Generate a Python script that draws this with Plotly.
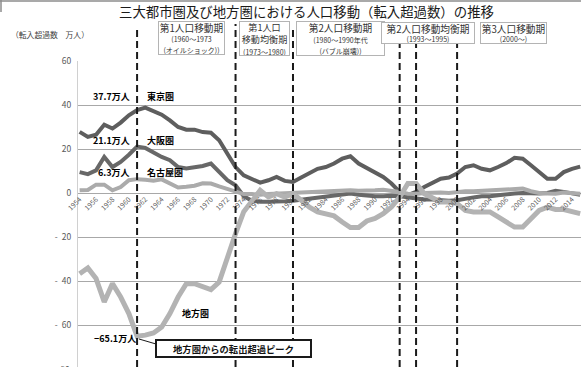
import plotly.graph_objects as go

# 年次（1954〜2015）
years = list(range(1954, 2016))

# 転入超過数（万人）
tokyo = [27.8, 25.5, 26.5, 31.0, 29.3, 32.0, 35.3, 37.7, 38.8, 37.4, 35.6, 33.0,
         30.0, 28.8, 28.8, 27.7, 27.4, 24.0, 18.0, 11.8, 8.0, 6.5, 4.7, 5.8,
         7.3, 5.5, 5.0, 7.0, 9.0, 11.0, 11.8, 13.4, 15.6, 16.7, 13.4, 11.5,
         9.5, 7.3, 4.3, 0.5, -1.0, 0.5, 2.7, 4.7, 6.5, 7.0, 8.8, 11.8,
         12.6, 11.0, 10.3, 11.8, 13.6, 16.0, 15.6, 12.6, 9.5, 6.5, 6.5, 9.5,
         11.0, 12.0]
osaka = [9.5, 8.6, 10.3, 16.4, 11.8, 14.1, 17.4, 21.1, 20.5, 18.4, 16.4, 14.9,
         11.8, 11.1, 11.5, 12.3, 13.4, 9.5, 5.8, 3.5, -1.5, -3.5, -4.0, -4.0,
         -4.0, -3.8, -3.5, -3.0, -2.5, -2.0, -1.5, -1.0, -0.5, -0.2, -0.8, -1.2,
         -1.5, -1.5, -1.2, -1.5, -2.0, -2.5, -3.0, -3.0, -3.3, -3.5, -3.3, -2.5,
         -2.0, -1.5, -1.5, -1.0, -0.5, -0.2, 0.0, -0.3, -0.2, 0.0, 1.0, 0.5,
         -0.3, -0.8]
nagoya = [1.2, 1.4, 3.8, 3.8, 1.2, 2.7, 5.8, 6.3, 6.0, 5.6, 6.2, 4.5,
          2.5, 2.8, 3.3, 4.4, 4.3, 3.0, 1.8, 0.8, -0.5, -0.5, -0.8, -0.5,
          -0.3, -0.2, 0.0, 0.0, 0.2, 0.3, 0.5, 0.8, 1.0, 1.2, 1.0, 1.0,
          1.2, 1.5, 1.2, 0.5, -0.3, -0.5, 0.0, 0.3, 0.2, 0.0, 0.5, 0.8,
          0.8, 1.0, 1.2, 1.6, 2.0, 2.2, 2.0, 0.8, 0.0, -0.2, -0.3, 0.2,
          -0.1, -0.3]
chiho = [-36.7, -34.1, -38.9, -49.5, -41.2, -47.3, -54.8, -65.1, -64.6, -63.6, -60.9, -54.8,
         -47.3, -41.2, -41.2, -42.7, -43.9, -40.5, -29.1, -18.5, -8.5, -3.3, 1.2, -1.8,
         -0.3, -1.8, -0.3, -3.3, -6.4, -8.6, -9.4, -10.4, -13.2, -15.7, -15.7, -12.7,
         -11.6, -9.4, -6.4, -1.8, 4.3, 4.3, -0.3, -2.5, -4.1, -4.1, -4.8, -7.9,
         -8.6, -8.6, -8.6, -10.9, -13.2, -15.5, -15.5, -11.6, -7.9, -6.4, -7.5, -7.5,
         -8.6, -9.4]

# 区切りの年
period_years = [1961, 1973, 1980, 1993, 1995, 2000]
y_ticks = [60, 40, 20, 0, -20, -40, -60]
y_tick_text = ["60", "40", "20", "0", "-\u200220", "-\u200240", "-\u200260"]
x_ticks = list(range(1954, 2015, 2))

W, H = 581, 367
L, T = 78, 61
PW, PH = W - L, H - T


def px(X):
    return (X - L) / PW


def py(Y):
    return (T + PH - Y) / PH


FONT = "Noto Sans CJK JP"
fig = go.Figure()

series = [
    ("東京圏", tokyo, "#5e5e5e", 4),
    ("大阪圏", osaka, "#686868", 4),
    ("名古屋圏", nagoya, "#ababab", 4),
    ("地方圏", chiho, "#b3b3b3", 5),
]
for name, vals, color, w in series:
    fig.add_trace(go.Scatter(x=years, y=vals, mode="lines", name=name,
                             line=dict(color=color, width=w),
                             showlegend=False, hoverinfo="skip"))

shapes = []
# 期間区切りの破線
tops = {1961: 27, 1973: 24, 1980: 28, 1993: 43, 1995: 43, 2000: 43}
for yr in period_years:
    shapes.append(dict(type="line", xref="x", yref="paper", x0=yr, x1=yr,
                       y0=0, y1=py(tops[yr]),
                       line=dict(color="#1a1a1a", width=2, dash="7px,4px")))
# 枠線
shapes.append(dict(type="line", xref="paper", yref="paper", x0=px(0), x1=px(581),
                   y0=py(1), y1=py(1), line=dict(color="#8c8c8c", width=1.5)))
shapes.append(dict(type="line", xref="paper", yref="paper", x0=px(1), x1=px(1),
                   y0=py(0), y1=py(12), line=dict(color="#8c8c8c", width=1.5)))
# 吹き出しの引き出し線
shapes.append(dict(type="line", xref="paper", yref="paper", x0=px(139), x1=px(156),
                   y0=py(339), y1=py(344), line=dict(color="#1a1a1a", width=1)))

ann = []


def box(cx, cy, w, h, text, base=8.5):
    ann.append(dict(xref="paper", yref="paper", x=px(cx), y=py(cy),
                    xanchor="center", yanchor="middle", text=text, showarrow=False,
                    width=w, height=h, align="center", bgcolor="white",
                    bordercolor="#b4b4b4", borderwidth=1, borderpad=0,
                    font=dict(family=FONT, size=base, color="#333333")))


def big(s, size=9.7):
    return f"<span style='font-size:{size}px'>{s}</span>"


def small(s):
    return f"<span style='font-size:7px'>{s}</span>"


box(191.5, 37.5, 65, 32, big("第1人口移動期") + "<br>" + small("(1960～1973") + "<br>" + small("(オイルショック))"), 8.2)
box(264.5, 38, 49, 33, big("第1人口", 9.1) + "<br>" + big("移動均衡期", 9.1) + "<br>" + small("(1973～1980)"), 9.6)
box(340.5, 38, 87, 33, big("第2人口移動期") + "<br>" + small("(1980～1990年代") + "<br>" + small("(バブル崩壊))"), 8.2)
box(428, 33, 92, 20, big("第2人口移動均衡期") + "<br>" + small("(1993～1995)"), 7.5)
box(513.5, 33, 65, 20, big("第3人口移動期") + "<br>" + small("(2000～)"), 7.5)


def label(X, Y, text, anchor, size=9):
    ann.append(dict(xref="paper", yref="paper", x=px(X), y=py(Y), xanchor=anchor,
                    yanchor="middle", text=f"<b>{text}</b>", showarrow=False,
                    font=dict(family=FONT, size=size, color="#000000")))


label(132, 96.5, f"{tokyo[7]}万人", "right")
label(145, 96.5, "東京圏", "left")
label(132, 140.5, f"{osaka[7]}万人", "right")
label(145, 140.5, "大阪圏", "left")
label(132, 172.5, f"{nagoya[7]}万人", "right")
label(145, 172.5, "名古屋圏", "left")
label(180, 313, "地方圏", "left")
label(138, 338, f"−{abs(chiho[7])}万人", "right")

ann.append(dict(xref="paper", yref="paper", x=px(233.5), y=py(348), xanchor="center",
                yanchor="middle", text="<b>地方圏からの転出超過ピーク</b>", showarrow=False,
                width=153, height=15, bgcolor="white", bordercolor="#1a1a1a",
                borderwidth=2, borderpad=0,
                font=dict(family=FONT, size=9.3, color="#111111")))

# 表題と単位
ann.append(dict(xref="paper", yref="paper", x=px(306), y=py(11.5), xanchor="center",
                yanchor="middle", text="三大都市圏及び地方圏における人口移動（転入超過数）の推移",
                showarrow=False, font=dict(family=FONT, size=13.4, color="#1a1a1a")))
ann.append(dict(xref="paper", yref="paper", x=px(9), y=py(34), xanchor="left",
                yanchor="middle", text="（転入超過数　万人）", showarrow=False,
                font=dict(family=FONT, size=7.8, color="#404040")))
ann.append(dict(xref="paper", yref="paper", x=px(72), y=py(368.5), xanchor="right",
                yanchor="middle", text="-\u200280", showarrow=False,
                font=dict(family=FONT, size=8.5, color="#595959")))

y_min = 60 - PH / 2.2
fig.update_layout(
    width=W, height=H,
    margin=dict(l=L, r=0, t=T, b=0),
    plot_bgcolor="white", paper_bgcolor="white",
    shapes=shapes, annotations=ann,
    xaxis=dict(range=[1953.8, 2015.1], tickvals=x_ticks, ticktext=[str(v) for v in x_ticks],
               tickangle=-45, showgrid=False, zeroline=False, showline=False,
               anchor="free", position=(0 - y_min) / (60 - y_min),
               tickfont=dict(family=FONT, size=7, color="#595959")),
    yaxis=dict(range=[y_min, 60], tickvals=y_ticks, ticktext=y_tick_text,
               showgrid=True, gridcolor="#a8a8a8", gridwidth=1.3, zeroline=False,
               showline=True, linecolor="#d0d0d0", linewidth=1,
               ticklabelstandoff=4,
               tickfont=dict(family=FONT, size=8.5, color="#595959")),
)

fig.write_html("out.html")
